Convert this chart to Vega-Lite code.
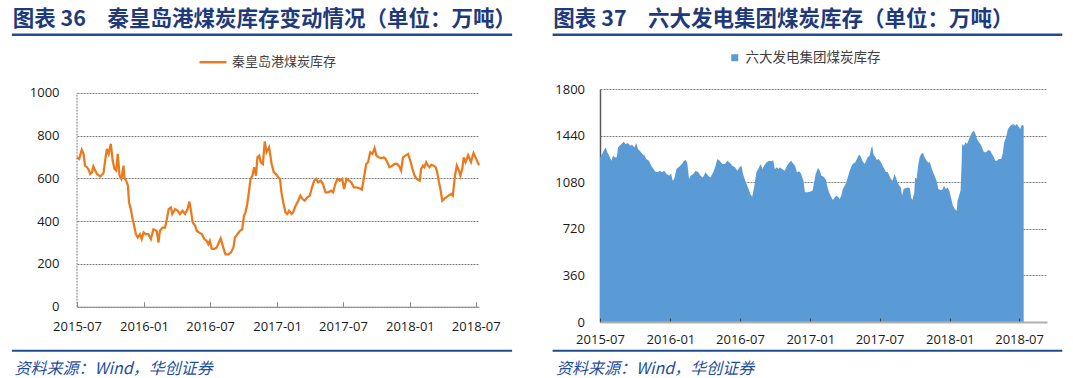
{
  "$schema": "https://vega.github.io/schema/vega-lite/v6.json",
  "padding": {"left": 10, "top": 8, "right": 0, "bottom": 0},
  "background": "white",
  "spacing": 35,
  "align": "none",
  "resolve": {"scale": {"color": "independent"}, "legend": {"color": "independent"}},
  "config": {"view": {"stroke": null}, "font": "Noto Sans CJK SC"},
  "datasets": {
    "qhd": [
      {"date":"2015-07-01","value":698},{"date":"2015-07-07","value":691},{"date":"2015-07-14","value":733},{"date":"2015-07-19","value":714},{"date":"2015-07-23","value":659},{"date":"2015-07-28","value":652},{"date":"2015-08-02","value":641},{"date":"2015-08-06","value":620},{"date":"2015-08-11","value":628},{"date":"2015-08-15","value":656},{"date":"2015-08-20","value":636},{"date":"2015-08-25","value":620},{"date":"2015-09-03","value":608},{"date":"2015-09-12","value":625},{"date":"2015-09-17","value":691},{"date":"2015-09-21","value":737},{"date":"2015-09-26","value":714},{"date":"2015-10-02","value":761},{"date":"2015-10-07","value":683},{"date":"2015-10-12","value":644},{"date":"2015-10-17","value":636},{"date":"2015-10-21","value":714},{"date":"2015-10-26","value":612},{"date":"2015-10-31","value":597},{"date":"2015-11-06","value":659},{"date":"2015-11-08","value":605},{"date":"2015-11-13","value":589},{"date":"2015-11-18","value":566},{"date":"2015-11-21","value":487},{"date":"2015-11-26","value":456},{"date":"2015-12-01","value":409},{"date":"2015-12-05","value":378},{"date":"2015-12-10","value":339},{"date":"2015-12-15","value":323},{"date":"2015-12-21","value":339},{"date":"2015-12-26","value":316},{"date":"2015-12-31","value":347},
      {"date":"2016-01-06","value":339},{"date":"2016-01-13","value":339},{"date":"2016-01-20","value":316},{"date":"2016-01-27","value":362},{"date":"2016-02-05","value":355},{"date":"2016-02-10","value":300},{"date":"2016-02-14","value":355},{"date":"2016-02-21","value":370},{"date":"2016-02-28","value":370},{"date":"2016-03-04","value":409},{"date":"2016-03-09","value":456},{"date":"2016-03-15","value":464},{"date":"2016-03-19","value":433},{"date":"2016-03-27","value":456},{"date":"2016-04-03","value":448},{"date":"2016-04-09","value":433},{"date":"2016-04-16","value":448},{"date":"2016-04-23","value":433},{"date":"2016-04-30","value":456},{"date":"2016-05-05","value":491},{"date":"2016-05-10","value":441},{"date":"2016-05-14","value":394},{"date":"2016-05-21","value":378},{"date":"2016-05-25","value":355},{"date":"2016-05-31","value":347},{"date":"2016-06-08","value":339},{"date":"2016-06-15","value":316},{"date":"2016-06-21","value":308},{"date":"2016-06-26","value":292},{"date":"2016-06-30","value":308},{"date":"2016-07-05","value":272},{"date":"2016-07-12","value":269},{"date":"2016-07-19","value":277},{"date":"2016-07-23","value":292},{"date":"2016-07-30","value":319},{"date":"2016-08-06","value":277},{"date":"2016-08-12","value":245},{"date":"2016-08-20","value":245},{"date":"2016-08-27","value":253},{"date":"2016-09-03","value":277},{"date":"2016-09-07","value":323},{"date":"2016-09-14","value":339},{"date":"2016-09-21","value":355},{"date":"2016-09-27","value":362},{"date":"2016-10-02","value":425},{"date":"2016-10-06","value":441},{"date":"2016-10-11","value":480},{"date":"2016-10-16","value":542},{"date":"2016-10-20","value":597},{"date":"2016-10-25","value":612},{"date":"2016-10-30","value":652},{"date":"2016-11-04","value":612},{"date":"2016-11-08","value":698},{"date":"2016-11-13","value":706},{"date":"2016-11-17","value":675},{"date":"2016-11-23","value":667},{"date":"2016-11-28","value":772},{"date":"2016-12-03","value":722},{"date":"2016-12-10","value":745},{"date":"2016-12-17","value":667},{"date":"2016-12-23","value":628},{"date":"2016-12-29","value":620},
      {"date":"2017-01-04","value":605},{"date":"2017-01-09","value":597},{"date":"2017-01-13","value":534},{"date":"2017-01-18","value":487},{"date":"2017-01-24","value":441},{"date":"2017-01-29","value":433},{"date":"2017-02-03","value":448},{"date":"2017-02-10","value":433},{"date":"2017-02-14","value":441},{"date":"2017-02-21","value":472},{"date":"2017-02-28","value":495},{"date":"2017-03-06","value":519},{"date":"2017-03-12","value":503},{"date":"2017-03-18","value":495},{"date":"2017-03-25","value":511},{"date":"2017-04-01","value":519},{"date":"2017-04-07","value":558},{"date":"2017-04-13","value":589},{"date":"2017-04-19","value":597},{"date":"2017-04-24","value":581},{"date":"2017-05-01","value":589},{"date":"2017-05-07","value":573},{"date":"2017-05-14","value":534},{"date":"2017-05-21","value":534},{"date":"2017-05-29","value":542},{"date":"2017-06-04","value":534},{"date":"2017-06-10","value":573},{"date":"2017-06-16","value":597},{"date":"2017-06-22","value":589},{"date":"2017-06-29","value":597},{"date":"2017-07-04","value":550},{"date":"2017-07-11","value":597},{"date":"2017-07-18","value":589},{"date":"2017-07-24","value":581},{"date":"2017-07-31","value":558},{"date":"2017-08-07","value":558},{"date":"2017-08-16","value":553},{"date":"2017-08-22","value":547},{"date":"2017-08-28","value":605},{"date":"2017-09-03","value":667},{"date":"2017-09-08","value":675},{"date":"2017-09-14","value":722},{"date":"2017-09-20","value":714},{"date":"2017-09-26","value":741},{"date":"2017-10-01","value":706},{"date":"2017-10-07","value":698},{"date":"2017-10-15","value":694},{"date":"2017-10-21","value":698},{"date":"2017-10-26","value":691},{"date":"2017-10-31","value":675},{"date":"2017-11-06","value":652},{"date":"2017-11-14","value":659},{"date":"2017-11-20","value":667},{"date":"2017-11-27","value":667},{"date":"2017-12-04","value":652},{"date":"2017-12-08","value":636},{"date":"2017-12-13","value":698},{"date":"2017-12-20","value":706},{"date":"2017-12-27","value":714},
      {"date":"2018-01-02","value":683},{"date":"2018-01-08","value":644},{"date":"2018-01-14","value":612},{"date":"2018-01-20","value":597},{"date":"2018-01-28","value":589},{"date":"2018-02-01","value":644},{"date":"2018-02-06","value":659},{"date":"2018-02-10","value":652},{"date":"2018-02-15","value":675},{"date":"2018-02-20","value":659},{"date":"2018-02-24","value":652},{"date":"2018-03-01","value":663},{"date":"2018-03-07","value":659},{"date":"2018-03-13","value":652},{"date":"2018-03-17","value":628},{"date":"2018-03-22","value":581},{"date":"2018-03-26","value":550},{"date":"2018-03-31","value":495},{"date":"2018-04-05","value":503},{"date":"2018-04-11","value":511},{"date":"2018-04-17","value":519},{"date":"2018-04-25","value":527},{"date":"2018-04-29","value":519},{"date":"2018-05-05","value":612},{"date":"2018-05-10","value":659},{"date":"2018-05-16","value":636},{"date":"2018-05-20","value":612},{"date":"2018-05-25","value":644},{"date":"2018-05-29","value":698},{"date":"2018-06-03","value":675},{"date":"2018-06-10","value":708},{"date":"2018-06-18","value":676},{"date":"2018-06-25","value":718},{"date":"2018-07-02","value":692},{"date":"2018-07-10","value":661}
    ],
    "six": [
      {"date":"2015-07-01","value":1272},{"date":"2015-07-04","value":1285},{"date":"2015-07-09","value":1311},{"date":"2015-07-13","value":1336},{"date":"2015-07-16","value":1349},{"date":"2015-07-20","value":1311},{"date":"2015-07-25","value":1285},{"date":"2015-07-31","value":1246},{"date":"2015-08-04","value":1285},{"date":"2015-08-08","value":1272},{"date":"2015-08-14","value":1272},{"date":"2015-08-17","value":1349},{"date":"2015-08-21","value":1362},{"date":"2015-08-26","value":1375},{"date":"2015-09-01","value":1393},{"date":"2015-09-06","value":1375},{"date":"2015-09-12","value":1383},{"date":"2015-09-18","value":1362},{"date":"2015-09-23","value":1370},{"date":"2015-09-29","value":1349},{"date":"2015-10-04","value":1383},{"date":"2015-10-08","value":1336},{"date":"2015-10-13","value":1323},{"date":"2015-10-20","value":1298},{"date":"2015-10-26","value":1285},{"date":"2015-10-30","value":1259},{"date":"2015-11-06","value":1246},{"date":"2015-11-12","value":1208},{"date":"2015-11-18","value":1182},{"date":"2015-11-23","value":1161},{"date":"2015-11-29","value":1156},{"date":"2015-12-05","value":1169},{"date":"2015-12-10","value":1156},{"date":"2015-12-16","value":1169},{"date":"2015-12-22","value":1143},{"date":"2015-12-29","value":1130},
      {"date":"2016-01-03","value":1148},{"date":"2016-01-07","value":1092},{"date":"2016-01-11","value":1105},{"date":"2016-01-17","value":1182},{"date":"2016-01-24","value":1200},{"date":"2016-01-31","value":1220},{"date":"2016-02-06","value":1246},{"date":"2016-02-10","value":1251},{"date":"2016-02-14","value":1233},{"date":"2016-02-19","value":1105},{"date":"2016-02-23","value":1130},{"date":"2016-03-01","value":1143},{"date":"2016-03-07","value":1169},{"date":"2016-03-14","value":1156},{"date":"2016-03-20","value":1130},{"date":"2016-03-26","value":1117},{"date":"2016-04-02","value":1156},{"date":"2016-04-09","value":1130},{"date":"2016-04-15","value":1117},{"date":"2016-04-22","value":1156},{"date":"2016-04-27","value":1195},{"date":"2016-05-03","value":1259},{"date":"2016-05-09","value":1246},{"date":"2016-05-16","value":1220},{"date":"2016-05-23","value":1220},{"date":"2016-05-29","value":1246},{"date":"2016-06-04","value":1233},{"date":"2016-06-11","value":1208},{"date":"2016-06-18","value":1195},{"date":"2016-06-24","value":1169},{"date":"2016-06-30","value":1195},{"date":"2016-07-05","value":1208},{"date":"2016-07-09","value":1143},{"date":"2016-07-15","value":1092},{"date":"2016-07-22","value":1040},{"date":"2016-07-28","value":989},{"date":"2016-08-02","value":968},{"date":"2016-08-07","value":1040},{"date":"2016-08-13","value":1156},{"date":"2016-08-18","value":1182},{"date":"2016-08-24","value":1220},{"date":"2016-08-29","value":1182},{"date":"2016-09-02","value":1208},{"date":"2016-09-08","value":1233},{"date":"2016-09-15","value":1246},{"date":"2016-09-22","value":1241},{"date":"2016-09-26","value":1251},{"date":"2016-09-30","value":1182},{"date":"2016-10-06","value":1195},{"date":"2016-10-10","value":1182},{"date":"2016-10-14","value":1195},{"date":"2016-10-19","value":1182},{"date":"2016-10-26","value":1169},{"date":"2016-11-01","value":1208},{"date":"2016-11-07","value":1233},{"date":"2016-11-12","value":1246},{"date":"2016-11-18","value":1220},{"date":"2016-11-22","value":1208},{"date":"2016-11-27","value":1156},{"date":"2016-12-03","value":1164},{"date":"2016-12-08","value":1143},{"date":"2016-12-14","value":1092},{"date":"2016-12-18","value":1002},{"date":"2016-12-24","value":1002},{"date":"2016-12-31","value":1007},
      {"date":"2017-01-07","value":1015},{"date":"2017-01-11","value":1079},{"date":"2017-01-15","value":1143},{"date":"2017-01-21","value":1190},{"date":"2017-01-26","value":1169},{"date":"2017-01-30","value":1130},{"date":"2017-02-05","value":1123},{"date":"2017-02-10","value":1105},{"date":"2017-02-14","value":1053},{"date":"2017-02-19","value":1002},{"date":"2017-02-25","value":963},{"date":"2017-03-01","value":942},{"date":"2017-03-06","value":963},{"date":"2017-03-10","value":976},{"date":"2017-03-14","value":968},{"date":"2017-03-19","value":950},{"date":"2017-03-23","value":976},{"date":"2017-03-27","value":1027},{"date":"2017-04-01","value":1053},{"date":"2017-04-05","value":1079},{"date":"2017-04-09","value":1117},{"date":"2017-04-14","value":1169},{"date":"2017-04-18","value":1200},{"date":"2017-04-22","value":1220},{"date":"2017-04-28","value":1233},{"date":"2017-05-03","value":1259},{"date":"2017-05-08","value":1293},{"date":"2017-05-12","value":1285},{"date":"2017-05-17","value":1246},{"date":"2017-05-23","value":1220},{"date":"2017-05-27","value":1246},{"date":"2017-05-31","value":1272},{"date":"2017-06-05","value":1285},{"date":"2017-06-09","value":1336},{"date":"2017-06-12","value":1362},{"date":"2017-06-15","value":1298},{"date":"2017-06-20","value":1272},{"date":"2017-06-24","value":1251},{"date":"2017-06-29","value":1259},{"date":"2017-07-05","value":1233},{"date":"2017-07-09","value":1208},{"date":"2017-07-14","value":1182},{"date":"2017-07-18","value":1156},{"date":"2017-07-22","value":1161},{"date":"2017-07-27","value":1130},{"date":"2017-07-31","value":1105},{"date":"2017-08-04","value":1092},{"date":"2017-08-09","value":1143},{"date":"2017-08-13","value":1117},{"date":"2017-08-17","value":1079},{"date":"2017-08-22","value":1053},{"date":"2017-08-26","value":1040},{"date":"2017-08-29","value":976},{"date":"2017-09-02","value":1027},{"date":"2017-09-08","value":1035},{"date":"2017-09-15","value":1040},{"date":"2017-09-18","value":1035},{"date":"2017-09-22","value":958},{"date":"2017-09-25","value":942},{"date":"2017-09-30","value":1002},{"date":"2017-10-02","value":1117},{"date":"2017-10-06","value":1105},{"date":"2017-10-10","value":1208},{"date":"2017-10-14","value":1272},{"date":"2017-10-19","value":1303},{"date":"2017-10-23","value":1303},{"date":"2017-10-27","value":1272},{"date":"2017-11-01","value":1246},{"date":"2017-11-06","value":1233},{"date":"2017-11-10","value":1233},{"date":"2017-11-15","value":1182},{"date":"2017-11-18","value":1156},{"date":"2017-11-22","value":1130},{"date":"2017-11-27","value":1092},{"date":"2017-12-02","value":1027},{"date":"2017-12-07","value":1020},{"date":"2017-12-12","value":1022},{"date":"2017-12-17","value":1053},{"date":"2017-12-21","value":1027},{"date":"2017-12-26","value":1040},{"date":"2017-12-31","value":1009},
      {"date":"2018-01-06","value":937},{"date":"2018-01-09","value":899},{"date":"2018-01-14","value":873},{"date":"2018-01-19","value":860},{"date":"2018-01-21","value":937},{"date":"2018-01-25","value":976},{"date":"2018-01-29","value":1015},{"date":"2018-02-01","value":1246},{"date":"2018-02-02","value":1375},{"date":"2018-02-07","value":1362},{"date":"2018-02-11","value":1388},{"date":"2018-02-15","value":1375},{"date":"2018-02-20","value":1414},{"date":"2018-02-24","value":1439},{"date":"2018-02-28","value":1465},{"date":"2018-03-05","value":1478},{"date":"2018-03-09","value":1452},{"date":"2018-03-13","value":1414},{"date":"2018-03-18","value":1388},{"date":"2018-03-22","value":1375},{"date":"2018-03-26","value":1349},{"date":"2018-03-31","value":1311},{"date":"2018-04-06","value":1311},{"date":"2018-04-11","value":1329},{"date":"2018-04-17","value":1323},{"date":"2018-04-21","value":1298},{"date":"2018-04-26","value":1272},{"date":"2018-04-30","value":1246},{"date":"2018-05-04","value":1246},{"date":"2018-05-09","value":1259},{"date":"2018-05-15","value":1259},{"date":"2018-05-19","value":1298},{"date":"2018-05-23","value":1388},{"date":"2018-05-28","value":1427},{"date":"2018-06-02","value":1491},{"date":"2018-06-08","value":1517},{"date":"2018-06-12","value":1524},{"date":"2018-06-17","value":1529},{"date":"2018-06-21","value":1517},{"date":"2018-06-25","value":1529},{"date":"2018-06-30","value":1509},{"date":"2018-07-04","value":1491},{"date":"2018-07-08","value":1524},{"date":"2018-07-13","value":1517}
    ]
  },
  "hconcat": [
    {
      "width": 402,
      "height": 217.7,
      "title": {"text": "图表 36　秦皇岛港煤炭库存变动情况（单位：万吨）", "anchor": "start", "frame": "bounds", "dx": 2, "offset": 3, "font": "Noto Sans CJK SC", "fontSize": 21.5, "fontWeight": "bold", "color": "#1F3A7A"},
      "layer": [
        {
          "data": {"name": "qhd"},
          "mark": {"type": "line", "strokeWidth": 2.25},
          "encoding": {
            "x": {"field": "date", "type": "temporal",
              "scale": {"type": "utc", "nice": false, "domain": [{"year": 2015, "month": 7, "date": 1, "utc": true}, {"year": 2018, "month": 7, "date": 10, "utc": true}]},
              "axis": {"values": [{"year": 2015, "month": 7, "date": 1, "utc": true}, {"year": 2016, "month": 1, "date": 1, "utc": true}, {"year": 2016, "month": 7, "date": 1, "utc": true}, {"year": 2017, "month": 1, "date": 1, "utc": true}, {"year": 2017, "month": 7, "date": 1, "utc": true}, {"year": 2018, "month": 1, "date": 1, "utc": true}, {"year": 2018, "month": 7, "date": 1, "utc": true}],
                "format": "%Y-%m", "labelFlush": false, "labelOverlap": false, "grid": false, "zindex": 1,
                "labelFont": "Open Sans", "labelFontSize": 13, "labelColor": "#1a1a1a", "labelPadding": 19,
                "tickSize": -5, "tickColor": "#8c8c8c", "domainColor": "#8c8c8c", "domainWidth": 1,
                "title": "资料来源：Wind，华创证券", "titleX": -63, "titleY": 62, "titleAlign": "left", "titleBaseline": "middle", "titleFont": "Noto Sans CJK SC", "titleFontSize": 16, "titleFontStyle": "italic", "titleFontWeight": "normal", "titleColor": "#1F4FA0"}},
            "y": {"field": "value", "type": "quantitative",
              "scale": {"domain": [0, 1017.3], "nice": false},
              "axis": {"values": [0, 200, 400, 600, 800, 1000], "format": "d", "title": null, "ticks": false, "domain": false, "labelPadding": 18, "labelFont": "Open Sans", "labelFontSize": 13, "labelColor": "#1a1a1a", "gridColor": "#7f7f7f", "gridDash": [2, 1], "grid": true}},
            "color": {"datum": "秦皇岛港煤炭库存", "scale": {"range": ["#EB7A1E"]},
              "legend": {"orient": "none", "legendX": 121, "legendY": -41.8, "title": null, "symbolType": "stroke", "symbolSize": 729, "symbolStrokeWidth": 2.5, "labelFont": "Noto Sans CJK SC", "labelFontSize": 13, "labelColor": "#404040", "padding": 0, "labelOffset": 4}}
          }
        },
        {
          "data": {"values": [{}]},
          "mark": {"type": "rule", "color": "#7f7f7f", "strokeWidth": 1, "strokeDash": [2, 1]},
          "encoding": {
            "x": {"datum": {"year": 2015, "month": 7, "date": 1, "utc": true}, "type": "temporal"},
            "y": {"datum": 0, "type": "quantitative"},
            "y2": {"datum": 1000}
          }
        },
        {
          "data": {"values": [{}]},
          "mark": {"type": "rule", "color": "#1F4E8E", "strokeWidth": 2.5},
          "encoding": {
            "x": {"datum": {"year": 2015, "month": 1, "date": 3, "utc": true}, "type": "temporal"},
            "x2": {"datum": {"year": 2018, "month": 10, "date": 9, "utc": true}},
            "y": {"datum": 1271, "type": "quantitative"}
          }
        },
        {
          "data": {"values": [{}]},
          "mark": {"type": "rule", "color": "#1F4E8E", "strokeWidth": 2},
          "encoding": {
            "x": {"datum": {"year": 2015, "month": 1, "date": 3, "utc": true}, "type": "temporal"},
            "x2": {"datum": {"year": 2018, "month": 10, "date": 9, "utc": true}},
            "y": {"datum": -205.6, "type": "quantitative"}
          }
        }
      ]
    },
    {
      "width": 447,
      "height": 233,
      "title": {"text": "图表 37　六大发电集团煤炭库存（单位：万吨）", "anchor": "start", "frame": "bounds", "dx": 2, "offset": 3, "font": "Noto Sans CJK SC", "fontSize": 21.5, "fontWeight": "bold", "color": "#1F3A7A"},
      "layer": [
        {
          "data": {"name": "six"},
          "mark": {"type": "area", "opacity": 1},
          "encoding": {
            "x": {"field": "date", "type": "temporal",
              "scale": {"type": "utc", "nice": false, "domain": [{"year": 2015, "month": 7, "date": 1, "utc": true}, {"year": 2018, "month": 9, "date": 12, "utc": true}]},
              "axis": {"values": [{"year": 2015, "month": 7, "date": 1, "utc": true}, {"year": 2016, "month": 1, "date": 1, "utc": true}, {"year": 2016, "month": 7, "date": 1, "utc": true}, {"year": 2017, "month": 1, "date": 1, "utc": true}, {"year": 2017, "month": 7, "date": 1, "utc": true}, {"year": 2018, "month": 1, "date": 1, "utc": true}, {"year": 2018, "month": 7, "date": 1, "utc": true}],
                "format": "%Y-%m", "labelFlush": false, "labelOverlap": false, "grid": false, "zindex": 1,
                "labelFont": "Open Sans", "labelFontSize": 13, "labelColor": "#1a1a1a", "labelPadding": 15,
                "tickSize": -4, "tickColor": "#404040", "domainColor": "#b0b0b0", "domainWidth": 2,
                "title": "资料来源：Wind，华创证券", "titleX": -44.5, "titleY": 46.7, "titleAlign": "left", "titleBaseline": "middle", "titleFont": "Noto Sans CJK SC", "titleFontSize": 16, "titleFontStyle": "italic", "titleFontWeight": "normal", "titleColor": "#1F4FA0"}},
            "y": {"field": "value", "type": "quantitative",
              "scale": {"domain": [0, 1800], "nice": false},
              "axis": {"values": [0, 360, 720, 1080, 1440, 1800], "format": "d", "title": null, "ticks": false, "labelPadding": 15.5, "labelFont": "Open Sans", "labelFontSize": 13, "labelColor": "#1a1a1a", "domainColor": "#595959", "domainWidth": 1.5, "gridColor": "#7f7f7f", "gridDash": [2, 1], "grid": true}},
            "color": {"datum": "六大发电集团煤炭库存", "scale": {"range": ["#5B9BD5"]},
              "legend": {"orient": "none", "legendX": 128, "legendY": -38, "title": null, "symbolType": "square", "symbolSize": 49, "symbolStrokeWidth": 0, "labelFont": "Noto Sans CJK SC", "labelFontSize": 13.5, "labelColor": "#404040", "padding": 0, "labelOffset": 4}}
          }
        },
        {
          "data": {"values": [{}]},
          "mark": {"type": "rule", "color": "#1F4E8E", "strokeWidth": 2.5},
          "encoding": {
            "x": {"datum": {"year": 2015, "month": 2, "date": 27, "utc": true}, "type": "temporal"},
            "x2": {"datum": {"year": 2018, "month": 10, "date": 22, "utc": true}},
            "y": {"datum": 2219.5, "type": "quantitative"}
          }
        },
        {
          "data": {"values": [{}]},
          "mark": {"type": "rule", "color": "#1F4E8E", "strokeWidth": 2},
          "encoding": {
            "x": {"datum": {"year": 2015, "month": 2, "date": 27, "utc": true}, "type": "temporal"},
            "x2": {"datum": {"year": 2018, "month": 10, "date": 22, "utc": true}},
            "y": {"datum": -221.7, "type": "quantitative"}
          }
        }
      ]
    }
  ]
}
